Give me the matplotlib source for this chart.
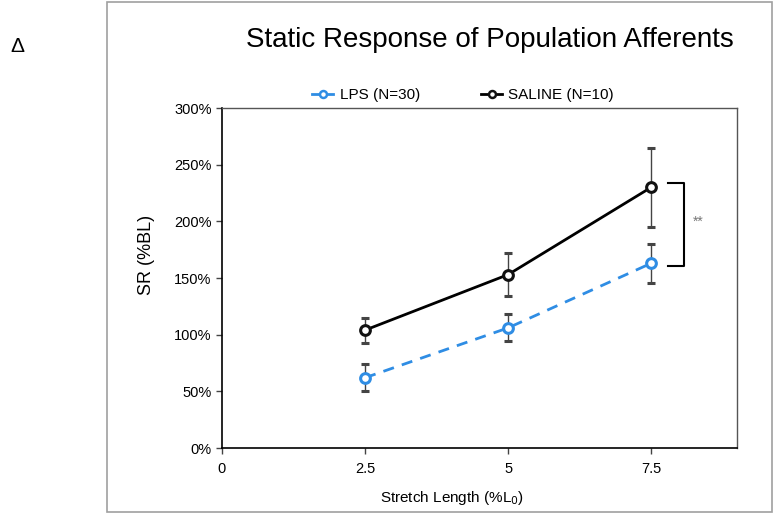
import matplotlib
matplotlib.use("Agg")
import matplotlib.pyplot as plt
from matplotlib.lines import Line2D
from matplotlib.patches import Rectangle
from matplotlib.ticker import FuncFormatter

plt.rcParams["font.family"] = ["Liberation Sans", "DejaVu Sans"]

# stretch lengths (% L0) and static response (% of baseline)
stretch = [2.5, 5.0, 7.5]
lps_mean = [62, 106, 163]
lps_err = [12, 12, 17]
saline_mean = [104, 153, 230]
saline_err = [11, 19, 35]

LPS_BLUE = "#2f8de4"

fig = plt.figure(figsize=(7.76, 5.14), dpi=100)

# thin grey frame round the chart panel
fig.patches.append(Rectangle((107 / 776, 2 / 514), 665 / 776, 510 / 514,
                             transform=fig.transFigure, fill=False,
                             edgecolor="#a0a0a0", linewidth=1.2))
fig.text(17 / 776, 1 - 47 / 514, "Δ", fontsize=15, ha="center", va="center")

ax = fig.add_axes([222 / 776, 66 / 514, 515 / 776, 340 / 514])

ax.errorbar(stretch, lps_mean, yerr=lps_err, color=LPS_BLUE, ls="--", lw=2,
            dashes=(4, 3), marker="o", ms=7, mfc="white", mec=LPS_BLUE, mew=2.2,
            ecolor="#444444", elinewidth=1, capsize=3, capthick=1, zorder=3)
ax.errorbar(stretch, saline_mean, yerr=saline_err, color="black", ls="-", lw=2,
            marker="o", ms=7, mfc="white", mec="#111111", mew=2.2,
            ecolor="#444444", elinewidth=1, capsize=3, capthick=1, zorder=3)

# significance bracket between groups at the longest stretch
bx0, bx1 = 7.8, 8.08
ax.plot([bx0, bx1, bx1, bx0], [saline_mean[-1] + 4, saline_mean[-1] + 4,
                               lps_mean[-1] - 2, lps_mean[-1] - 2],
        color="black", lw=1.5, clip_on=False)
ax.text(8.32, 200, "**", color="#777777", fontsize=10, ha="center", va="center")

ax.set_xlim(0, 9)
ax.set_ylim(0, 300)
ax.set_xticks([0, 2.5, 5, 7.5])
ax.set_xticklabels(["0", "2.5", "5", "7.5"])
ax.set_yticks(range(0, 301, 50))
ax.yaxis.set_major_formatter(FuncFormatter(lambda v, p: f"{int(v)}%"))
ax.tick_params(axis="both", direction="out", length=4, width=1, labelsize=10.5,
               color="#444444")
ax.tick_params(axis="x", pad=6)

for side in ["left", "bottom"]:
    ax.spines[side].set_color("black")
    ax.spines[side].set_linewidth(1.2)
for side in ["top", "right"]:
    ax.spines[side].set_color("#555555")
    ax.spines[side].set_linewidth(1)

ax.set_xlabel("Stretch Length (%L$_0$)", fontsize=11)
ax.xaxis.set_label_coords((452 - 222) / 515, -0.12)
ax.set_ylabel("SR (%BL)", fontsize=13)
ax.yaxis.set_label_coords(-(222 - 155) / 515, (448 - 255) / 340)

fig.text(490 / 776, 1 - 40 / 514, "Static Response of Population Afferents",
         fontsize=20, ha="center", va="center")

handles = [
    Line2D([], [], color=LPS_BLUE, lw=2, marker="o", ms=5, mfc="white",
           mec=LPS_BLUE, mew=1.8),
    Line2D([], [], color="black", lw=2, marker="o", ms=5, mfc="white",
           mec="#111111", mew=1.8),
]
ax.legend(handles, ["LPS (N=30)", "SALINE (N=10)"], loc="center",
          bbox_to_anchor=((463 - 222) / 515, 1 + 13 / 340), ncol=2, frameon=False,
          fontsize=11, handlelength=1.4, handletextpad=0.4, columnspacing=4.0,
          borderaxespad=0)

fig.savefig("out.png", dpi=100)
